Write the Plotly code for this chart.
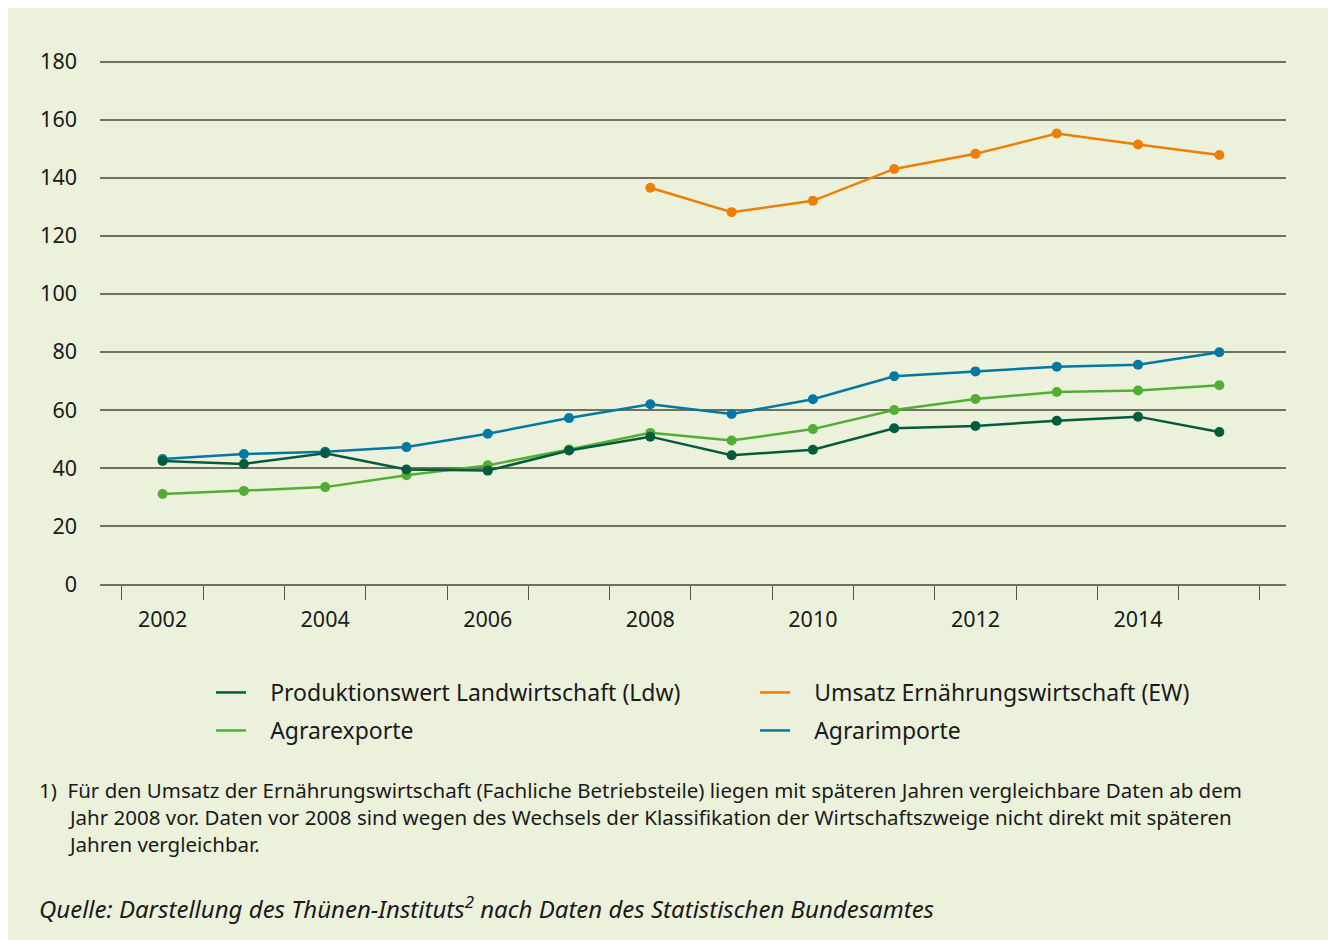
import plotly.graph_objects as go

years = [2002, 2003, 2004, 2005, 2006, 2007, 2008, 2009, 2010, 2011, 2012, 2013, 2014, 2015]
produktionswert = [42.4, 41.4, 45.1, 39.5, 39.1, 46.0, 50.8, 44.4, 46.3, 53.7, 54.5, 56.3, 57.7, 52.4]
agrarexporte = [31.0, 32.1, 33.4, 37.5, 40.9, 46.4, 52.1, 49.5, 53.4, 60.0, 63.8, 66.2, 66.7, 68.5]
agrarimporte = [43.1, 44.8, 45.6, 47.2, 51.8, 57.2, 62.0, 58.6, 63.7, 71.6, 73.3, 74.9, 75.6, 79.9]
umsatz_years = [2008, 2009, 2010, 2011, 2012, 2013, 2014, 2015]
umsatz = [136.6, 128.2, 132.1, 143.1, 148.3, 155.3, 151.5, 147.9]

x_tick_labels = [2002, 2004, 2006, 2008, 2010, 2012, 2014]
y_ticks = [0, 20, 40, 60, 80, 100, 120, 140, 160, 180]

names = {
    "ldw": "Produktionswert Landwirtschaft (Ldw)",
    "ew": "Umsatz Ernährungswirtschaft (EW)",
    "exp": "Agrarexporte",
    "imp": "Agrarimporte",
}
colors = {"ldw": "#005C3C", "ew": "#EE7F00", "exp": "#52AE32", "imp": "#0078A3"}

footnote_lines = [
    "1)  Für den Umsatz der Ernährungswirtschaft (Fachliche Betriebsteile) liegen mit späteren Jahren vergleichbare Daten ab dem",
    "Jahr 2008 vor. Daten vor 2008 sind wegen des Wechsels der Klassifikation der Wirtschaftszweige nicht direkt mit späteren",
    "Jahren vergleichbar.",
]
source_text = "<i>Quelle: Darstellung des Thünen-Instituts<sup>2</sup> nach Daten des Statistischen Bundesamtes</i>"

FONT = "Noto Sans"
TXT = "#1a1a1a"
BG = "#ECF1DB"
GRID = "#6E725F"
LEGEND_PAD = "\u2002\u2004"  # visual gap between legend line and label

OFF = 8  # page body margin
W, H = 1336 - OFF, 940 - OFF
L, R = 100 - OFF, 50
T = 59 - OFF
B = H - (584 - OFF)
PW = W - L - R
PH = H - T - B


def px_x(px):
    return (px - OFF - L) / PW


def px_y(py):
    return (H - B - (py - OFF)) / PH


fig = go.Figure()

series = [
    ("imp", years, agrarimporte, "legend2", 2),
    ("exp", years, agrarexporte, "legend2", 1),
    ("ew", umsatz_years, umsatz, "legend", 2),
    ("ldw", years, produktionswert, "legend", 1),
]
for key, xs, ys, lg, rank in series:
    fig.add_trace(go.Scatter(
        x=xs, y=ys, mode="lines", name=LEGEND_PAD + names[key], legend=lg, legendrank=rank,
        line=dict(color=colors[key], width=2.5),
        hovertemplate=names[key] + ": %{y}<extra></extra>",
    ))
    fig.add_trace(go.Scatter(
        x=xs, y=ys, mode="markers", showlegend=False,
        marker=dict(color=colors[key], size=10),
        hovertemplate=names[key] + ": %{y}<extra></extra>",
    ))

boundaries = [y - 0.5 for y in years] + [years[-1] + 0.5]

fig.update_xaxes(
    range=[2001.23, 2015.82],
    tickmode="array", tickvals=x_tick_labels, ticktext=[str(v) for v in x_tick_labels],
    ticks="", showgrid=False, zeroline=False,
    showline=True, linecolor=GRID, linewidth=2,
    tickfont=dict(family=FONT, size=21.5, color=TXT),
    ticklabelstandoff=15,
    minor=dict(tickmode="array", tickvals=boundaries, ticks="outside", ticklen=14,
               tickwidth=1.2, tickcolor="#555555", showgrid=False),
)
fig.update_yaxes(
    range=[0, 181], tickmode="array", tickvals=y_ticks,
    showgrid=True, gridcolor=GRID, gridwidth=1.6, zeroline=False,
    ticks="", tickfont=dict(family=FONT, size=21.5, color=TXT),
    ticklabelstandoff=22,
)

legend_common = dict(
    orientation="h", xanchor="left", yanchor="top",
    font=dict(family=FONT, size=23, color=TXT),
    bgcolor="rgba(0,0,0,0)", entrywidth=499, entrywidthmode="pixels",
    itemclick=False, itemdoubleclick=False,
)

annotations = []
annotations.append(dict(
    x=px_x(37), y=px_y(790), xref="paper", yref="paper", xanchor="left", yanchor="middle",
    text=footnote_lines[0], showarrow=False, font=dict(family=FONT, size=20.5, color=TXT),
))
for i, line in enumerate(footnote_lines[1:]):
    annotations.append(dict(
        x=px_x(66), y=px_y(817 + 27 * i), xref="paper", yref="paper", xanchor="left", yanchor="middle",
        text=line, showarrow=False, font=dict(family=FONT, size=20.5, color=TXT),
    ))
annotations.append(dict(
    x=px_x(37), y=px_y(908), xref="paper", yref="paper", xanchor="left", yanchor="middle",
    text=source_text, showarrow=False, font=dict(family=FONT, size=24, color=TXT),
))

fig.update_layout(
    width=W, height=H,
    margin=dict(l=L, r=R, t=T, b=B),
    paper_bgcolor=BG, plot_bgcolor="rgba(0,0,0,0)",
    showlegend=True,
    legend=dict(x=px_x(211), y=px_y(671), **legend_common),
    legend2=dict(x=px_x(211), y=px_y(709), **legend_common),
    annotations=annotations,
)

fig.write_html("out.html")
